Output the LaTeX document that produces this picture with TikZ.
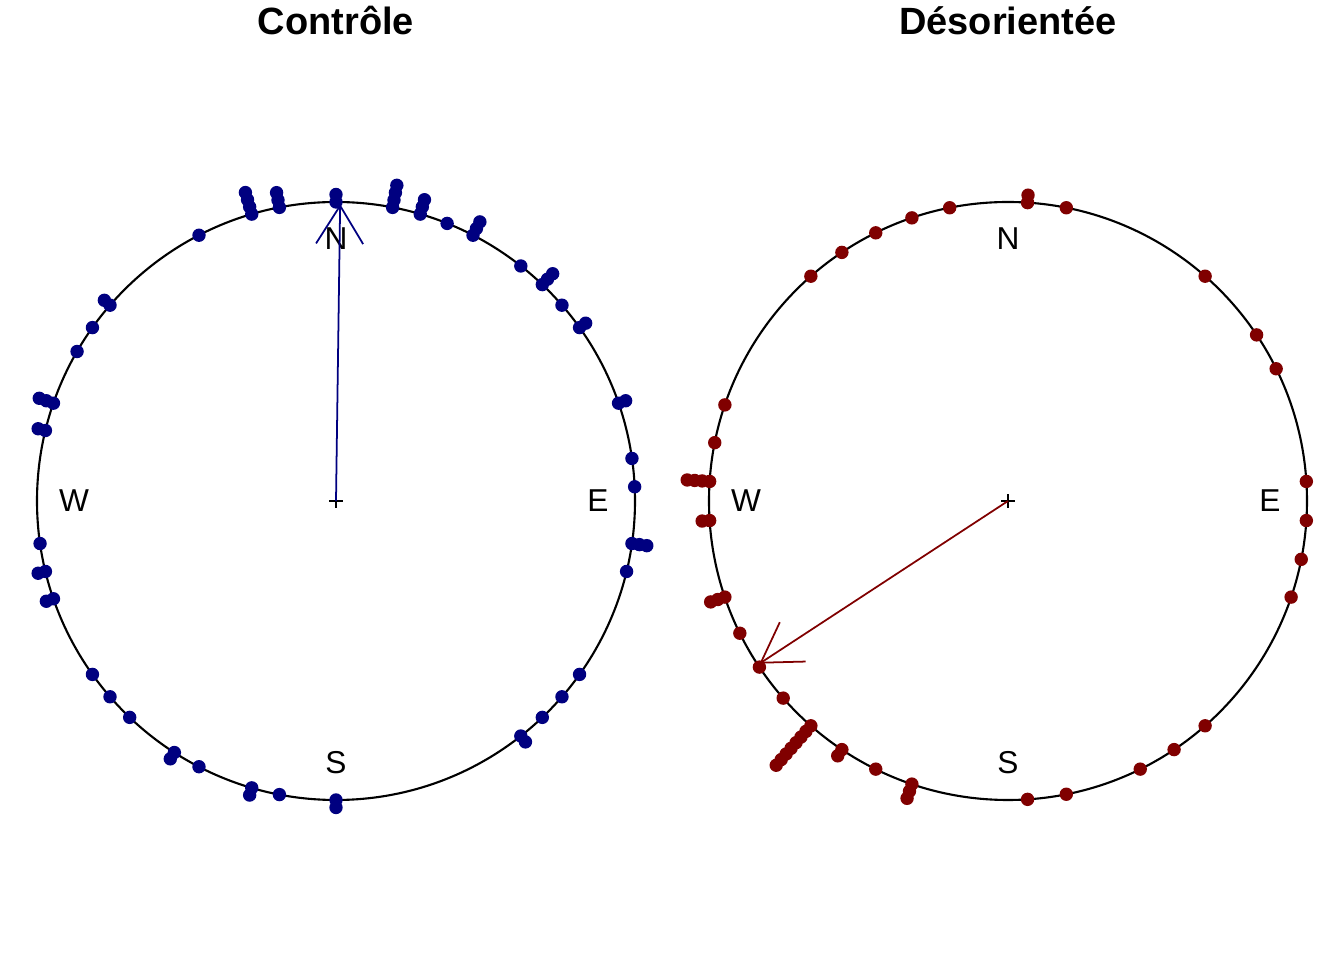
\documentclass[tikz,border=0pt]{standalone}
\usepackage{fontspec}
\setmainfont{Liberation Sans}
\usetikzlibrary{arrows.meta}
\definecolor{ctrlblue}{RGB}{0,0,128}
\definecolor{desred}{RGB}{128,0,0}
\tikzset{
  rim/.style={line width=0.6pt},
  lbl/.style={font=\fontsize{9}{11}\selectfont, inner sep=0pt},
  ttl/.style={font=\fontsize{10.8}{13}\selectfont\bfseries, inner sep=0pt, anchor=base},
  meanarrow/.style={line width=0.5pt, -{Straight Barb[length=3.8mm,width=4.7mm]}},
}
\begin{document}
\begin{tikzpicture}[x=0.01cm,y=0.01cm]
  \useasboundingbox (0,0) rectangle (1344,960);
  \node[ttl] (t1) at (336,925) {Contrôle};
  \node[ttl] (t2) at (1008,925) {Désorientée};
  \begin{scope}[shift={(336,459)}]
    \coordinate (c1) at (0,0);
    \coordinate (m1) at (89.2:297);
    \draw[rim] (c1) circle[radius=299];
    \draw
      (90:262) node[lbl] (N1){N}
      (0:262) node[lbl] (E1){E}
      (270:262) node[lbl] (S1){S}
      (180:262) node[lbl] (W1){W};
    \draw[rim] (-7,0) -- (7,0) (0,-7) -- (0,7);
    \draw[meanarrow, ctrlblue] (c1) -- (m1);
    \foreach \k/\n in {16/1,15/1,13/2,10/2,9/1,8/3,7/1,5/3,4/1,3/3,2/4,0/2,
      -2/3,-3/4,-5/1,-9/2,-10/1,-11/1,-13/3,-14/2,-18/1,-19/2,-20/2,-23/1,
      -24/1,-25/1,-27/2,-28/1,-30/2,-31/1,-33/2,18/3,19/1,23/1,24/1,25/1,26/2}
      \foreach \i in {1,...,\n}
        \fill[ctrlblue] ({90-\k*360/66}:{299+7.5*(\i-1)}) circle[radius=6.7];
  \end{scope}
  \begin{scope}[shift={(1008,459)}]
    \coordinate (c2) at (0,0);
    \coordinate (m2) at (213.2:297);
    \draw[rim] (c2) circle[radius=299];
    \draw
      (90:262) node[lbl] (N2){N}
      (0:262) node[lbl] (E2){E}
      (270:262) node[lbl] (S2){S}
      (180:262) node[lbl] (W2){W};
    \draw[rim] (-7,0) -- (7,0) (0,-7) -- (0,7);
    \draw[meanarrow, desred] (c2) -- (m2);
    \foreach \a/\n in {3.75/1,26.25/1,33.75/1,48.75/1,78.75/1,86.25/2,101.25/1,
      108.75/1,116.25/1,123.75/1,131.25/1,161.25/1,168.75/1,176.25/4,183.75/2,
      198.75/3,206.25/1,213.75/1,221.25/1,228.75/8,236.25/2,243.75/1,251.25/3,
      273.75/1,281.25/1,296.25/1,303.75/1,311.25/1,341.25/1,348.75/1,356.25/1}
      \foreach \i in {1,...,\n}
        \fill[desred] (\a:{299+7.5*(\i-1)}) circle[radius=6.7];
  \end{scope}
\end{tikzpicture}
\end{document}
